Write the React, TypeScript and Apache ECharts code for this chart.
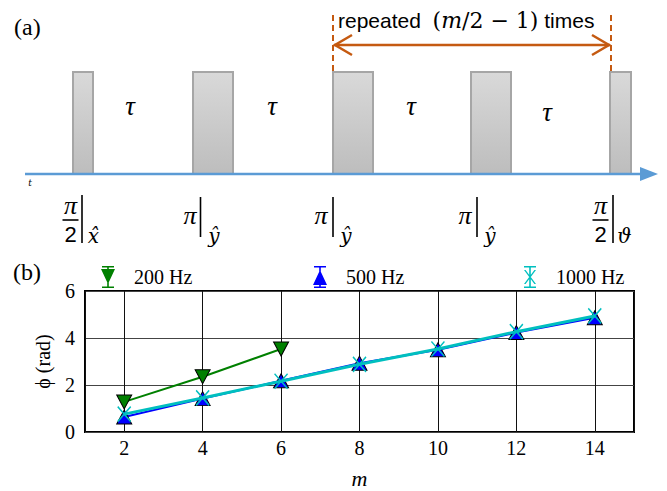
import React, { useEffect, useRef } from "react";
import * as echarts from "echarts";

// ---------- data ----------
const mValues = [2, 4, 6, 8, 10, 12, 14];
const phi200 = [1.28, 2.35, 3.53];
const phi500 = [0.64, 1.42, 2.18, 2.93, 3.5, 4.23, 4.86];
const phi1000 = [0.76, 1.45, 2.16, 2.88, 3.53, 4.27, 4.94];
const seriesNames = ["200 Hz", "500 Hz", "1000 Hz"];
const seriesColors = ["#008000", "#0000ff", "#00bfbf"];
const xRange = [1, 15];
const yRange = [0, 6];

const SERIF = "'Liberation Serif', 'Times New Roman', serif";
const MATH = "'DejaVu Serif', serif";
const SANS = "'Liberation Sans', 'Noto Sans', sans-serif";
const ORANGE = "#c55a11";
const BLUE_AX = "#5b9bd5";

// legend icons (error bar + marker)
const capsBar = "M2,0H14V1.6H2Z M2,20.4H14V22H2Z M7.2,0H8.8V22H7.2Z ";
const legendIcons = [
  "path://" + capsBar + "M1,3H15L8,18Z",
  "path://" + capsBar + "M8,4L15,19H1Z",
  "path://" + capsBar + "M2,4L3.6,4L14,18L12.4,18Z M12.4,4L14,4L3.6,18L2,18Z",
];
const xMarker = "path://M0,0L10,12M10,0L0,12";

function buildDiagram(): any[] {
  const els: any[] = [];
  const pulses = [
    [73, 20],
    [193, 40],
    [333, 40],
    [471, 40],
    [610, 21],
  ];
  pulses.forEach(([x, w]) => {
    els.push({
      type: "rect",
      shape: { x, y: 72, width: w, height: 102 },
      style: {
        fill: {
          type: "linear",
          x: 0,
          y: 0,
          x2: 0,
          y2: 1,
          colorStops: [
            { offset: 0, color: "#d9d9d9" },
            { offset: 1, color: "#bdbdbd" },
          ],
        },
        stroke: "#a6a6a6",
        lineWidth: 2,
      },
    });
  });
  // time axis
  els.push({
    type: "line",
    shape: { x1: 25, y1: 174, x2: 642, y2: 174 },
    style: { stroke: BLUE_AX, lineWidth: 2.5 },
  });
  els.push({
    type: "polygon",
    shape: { points: [[640, 167], [658, 174], [640, 181]] },
    style: { fill: BLUE_AX },
  });
  els.push({
    type: "text",
    x: 30,
    y: 183,
    style: { text: "t", font: "italic 9px " + MATH, fill: "#000", align: "center", verticalAlign: "middle" },
  });
  // taus
  [[130, 106], [272, 106], [411, 106], [547, 112]].forEach(([x, y]) => {
    els.push({
      type: "text",
      x,
      y,
      style: { text: "τ", font: "italic 27px " + SERIF, fill: "#000", align: "center", verticalAlign: "middle" },
    });
  });
  // labels under pulses
  const txt = (x: number, y: number, t: string, font: string) => ({
    type: "text",
    x,
    y,
    style: { text: t, font, fill: "#000", align: "center", verticalAlign: "middle" },
  });
  const PI_FONT = "italic 26px " + SERIF;
  const SUB_FONT = "italic 20px " + MATH;
  const vbar = (x: number, y1: number, y2: number) => ({
    type: "line",
    shape: { x1: x, y1, x2: x, y2 },
    style: { stroke: "#000", lineWidth: 1.6 },
  });
  const frac = (cx: number, barDx: number, sub: string, subDx: number) => {
    els.push(txt(cx, 205, "π", PI_FONT));
    els.push({
      type: "line",
      shape: { x1: cx - 8, y1: 220, x2: cx + 8, y2: 220 },
      style: { stroke: "#000", lineWidth: 1.6 },
    });
    els.push(txt(cx, 234, "2", "22px " + SANS));
    els.push(vbar(cx + barDx, 195, 243));
    els.push(txt(cx + subDx, 236, sub, SUB_FONT));
  };
  const piy = (cx: number, barDx: number, subDx: number) => {
    els.push(txt(cx, 215, "π", PI_FONT));
    els.push(vbar(cx + barDx, 197, 237));
    els.push(txt(cx + subDx, 236, "ŷ", SUB_FONT));
  };
  frac(70.5, 11.5, "x\u0302", 23);
  piy(190, 10.5, 24);
  piy(321, 12, 25);
  piy(465, 12, 25);
  frac(600.5, 12.5, "ϑ", 24);

  // orange repeat bracket
  [333, 611].forEach((x) => {
    els.push({
      type: "line",
      shape: { x1: x, y1: 15, x2: x, y2: 72 },
      style: { stroke: ORANGE, lineWidth: 2, lineDash: [6, 4] },
    });
  });
  els.push({
    type: "line",
    shape: { x1: 334, y1: 45, x2: 610, y2: 45 },
    style: { stroke: ORANGE, lineWidth: 2.5 },
  });
  els.push({
    type: "polyline",
    shape: { points: [[352, 35], [335, 45], [352, 55]] },
    style: { stroke: ORANGE, lineWidth: 2.5, fill: null },
  });
  els.push({
    type: "polyline",
    shape: { points: [[592, 35], [609, 45], [592, 55]] },
    style: { stroke: ORANGE, lineWidth: 2.5, fill: null },
  });
  els.push({
    type: "text",
    x: 338,
    y: 20,
    style: {
      text: "{w|repeated  }{p|(}{i|m}{p|/2 − 1)}{w| times}",
      verticalAlign: "middle",
      align: "left",
      rich: {
        w: { font: "21px " + SANS, fill: "#000" },
        p: { font: "22px " + MATH, fill: "#000" },
        i: { font: "italic 22px " + MATH, fill: "#000" },
      },
    },
  });
  // panel labels
  els.push({
    type: "text",
    x: 14,
    y: 27,
    style: { text: "(a)", font: "24px " + SERIF, fill: "#000", verticalAlign: "middle" },
  });
  els.push({
    type: "text",
    x: 13,
    y: 272,
    style: { text: "(b)", font: "24px " + SERIF, fill: "#000", verticalAlign: "middle" },
  });
  return els;
}

export default function App() {
  const ref = useRef<HTMLDivElement>(null);
  useEffect(() => {
    if (!ref.current) return;
    const chart = echarts.init(ref.current, undefined, { renderer: "svg" });
    const seriesData = [
      phi200.map((v, i) => [mValues[i], v]),
      phi500.map((v, i) => [mValues[i], v]),
      phi1000.map((v, i) => [mValues[i], v]),
    ];
    const option: any = {
      animation: false,
      backgroundColor: "#fff",
      graphic: buildDiagram(),
      legend: seriesNames.map((name, i) => ({
        left: [96, 308, 519][i],
        top: 261,
        itemWidth: 16,
        itemHeight: 22,
        selectedMode: false,
        data: [
          {
            name,
            icon: legendIcons[i],
            itemStyle: { color: seriesColors[i], borderWidth: 0 },
          },
        ],
        textStyle: { fontFamily: SERIF, fontSize: 20, color: "#000", padding: [0, 0, 0, 13] },
      })),
      grid: {
        left: 85,
        top: 291,
        width: 549,
        height: 141,
        show: true,
        borderColor: "#000",
        borderWidth: 2,
        backgroundColor: "transparent",
      },
      xAxis: {
        type: "value",
        min: xRange[0],
        max: xRange[1],
        splitNumber: 7,
        minInterval: 2,
        maxInterval: 2,
        axisLine: { show: false },
        axisTick: { show: false },
        splitLine: { show: true, lineStyle: { color: "#111", width: 1 } },
        axisLabel: {
          formatter: (v: number) => (v % 2 === 0 ? String(v) : ""),
          color: "#000",
          fontFamily: SERIF,
          fontSize: 20,
          margin: 6,
        },
        name: "m",
        nameLocation: "middle",
        nameGap: 35,
        nameTextStyle: { fontFamily: SERIF, fontStyle: "italic", fontSize: 22, color: "#000" },
      },
      yAxis: {
        type: "value",
        min: yRange[0],
        max: yRange[1],
        interval: 2,
        axisLine: { show: false },
        axisTick: { show: false },
        splitLine: { show: true, lineStyle: { color: "#444", width: 1.2 } },
        axisLabel: { color: "#000", fontFamily: SERIF, fontSize: 20, margin: 10 },
        name: "ϕ (rad)",
        nameLocation: "middle",
        nameGap: 32,
        nameRotate: 90,
        nameTextStyle: { fontFamily: SERIF, fontSize: 20, color: "#000" },
      },
      series: [
        {
          name: seriesNames[0],
          type: "line",
          z: 2,
          data: seriesData[0],
          lineStyle: { color: seriesColors[0], width: 2 },
          symbol: "triangle",
          symbolRotate: 180,
          symbolSize: [15, 14],
          itemStyle: { color: seriesColors[0], borderColor: "#000", borderWidth: 1 },
        },
        {
          name: seriesNames[1],
          type: "line",
          z: 3,
          data: seriesData[1],
          lineStyle: { color: seriesColors[1], width: 2 },
          symbol: "triangle",
          symbolSize: [15, 14],
          itemStyle: { color: seriesColors[1], borderColor: "#000", borderWidth: 1 },
        },
        {
          name: seriesNames[2],
          type: "line",
          z: 4,
          data: seriesData[2],
          lineStyle: { color: seriesColors[2], width: 3 },
          symbol: xMarker,
          symbolSize: [13, 15],
          itemStyle: { color: seriesColors[2], borderColor: seriesColors[2], borderWidth: 1.5 },
        },
      ],
    };
    chart.setOption(option);
    return () => chart.dispose();
  }, []);
  return (
    <div
      ref={ref}
      style={{ position: "fixed", left: 0, top: 0, width: 667, height: 491, background: "#fff" }}
    />
  );
}
